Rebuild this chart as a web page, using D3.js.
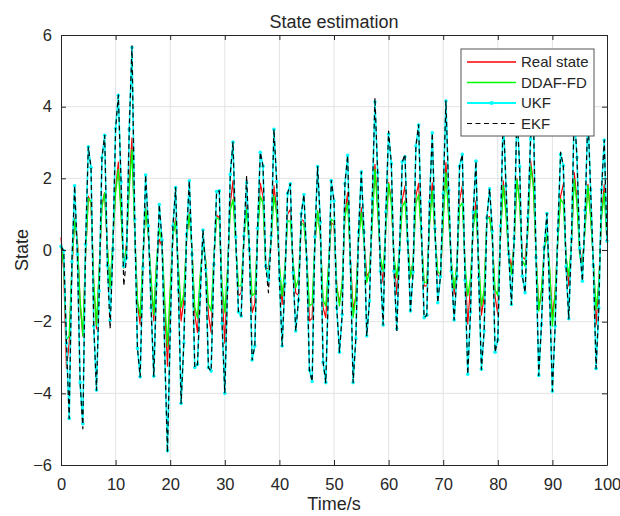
<!DOCTYPE html>
<html>
<head>
<meta charset="utf-8">
<script src="https://cdn.jsdelivr.net/npm/d3@7"></script>
<style>
  body { margin: 0; background: #fff; }
  text { font-family: "Liberation Sans", Arial, Helvetica, sans-serif; fill: #262626; }
</style>
</head>
<body>
<svg class="rend_state" width="620" height="516"></svg>
<script>
/////////////// data ////////////////
// sample time step (s)
const STEP = 0.5;
// real state, one row = 5 s
const realState = [
    0.35, -0.6, -3.3, -2.6, -0.6, 0.9, 0.3, -1.5, -2.4, -0.2,
    1.5, 1.3, -1.0, -2.2, -0.6, 1.3, 1.6, 0.0, -1.1, 0.2,
    1.7, 2.45, 1.1, -0.5, 0.2, 1.9, 3.13, 0.5, -1.5, -2.07,
    -0.3, 1.2, 0.4, -0.9, -1.98, -0.4, 0.3, 0.1, -1.6, -3.24,
    -1.3, 0.4, 0.9, -0.6, -1.98, -1.4, 0.3, 1.06, 0.0, -1.8,
    -2.3, -0.8, 0.3, -0.3, -1.8, -2.3, -0.2, 0.97, 0.9, -1.2,
    -2.6, -0.6, 1.3, 1.93, 0.2, -1.28, -1.2, 0.3, 1.37, 0.0,
    -1.75, -1.5, 0.4, 1.86, 1.5, -0.54, -0.5, 0.3, 1.8, 1.1,
    -0.5, -1.52, -0.6, 1.0, 1.13, -0.4, -1.2, -1.27, 0.86, 0.8,
    -0.2, -1.98, -1.9, 0.2, 1.09, 0.4, -1.6, -1.89, -0.5, 0.76,
    0.7, -1.0, -1.47, -1.0, 1.0, 1.6, -0.2, -1.66, -1.3, 0.3,
    1.18, 0.3, -0.73, -0.6, 0.8, 2.39, 1.2, -0.3, -0.91, 0.6,
    1.88, 1.4, -0.3, -1.24, 0.0, 1.4, 1.79, 0.2, -0.77, -0.3,
    1.5, 1.86, 0.4, -1.0, -1.0, 0.8, 1.88, 0.4, -0.7, -0.77,
    0.9, 2.44, 1.0, -0.4, -1.24, -0.4, 1.4, 1.79, -0.5, -2.07,
    -1.0, 0.7, 1.37, -0.4, -1.82, -1.3, 0.9, 0.93, 0.3, -1.3,
    -1.8, 0.4, 1.93, 1.1, -0.1, -0.49, 0.2, 1.99, 1.4, -0.2,
    -0.26, 0.6, 2.49, 1.9, -0.1, -1.66, -1.2, 0.0, 0.39, -0.6,
    -1.84, -1.2, 0.3, 1.5, 1.83, -0.2, -1.0, 0.2, 2.16, 1.4,
    0.02, -0.4, 0.7, 1.83, 1.0, -0.3, -2.08, -1.0, 1.0, 1.83,
    0.3
];
// DDAF-FD estimate
const ddafFd = [
    0.1, -0.4, -2.5, -2.4, -0.4, 0.85, 0.2, -1.4, -2.4, -0.1,
    1.45, 1.35, -0.9, -2.1, -0.5, 1.2, 1.6, 0.1, -1.05, 0.3,
    1.6, 2.25, 1.0, -0.5, 0.1, 1.7, 2.8, 0.5, -1.4, -1.84,
    -0.2, 1.13, 0.4, -0.8, -1.8, -0.3, 0.6, 0.2, -1.4, -2.68,
    -1.1, 0.4, 0.8, -0.5, -1.6, -1.2, 0.3, 1.0, 0.0, -1.6,
    -1.9, -0.7, 0.2, -0.3, -1.5, -1.7, -0.2, 0.9, 0.85, -1.0,
    -1.75, -0.5, 1.1, 1.41, 0.2, -1.0, -1.0, 0.3, 1.13, 0.0,
    -1.28, -1.2, 0.4, 1.5, 1.3, -0.5, -0.73, 0.3, 1.5, 1.0,
    -0.4, -1.28, -0.5, 0.8, 0.81, -0.3, -1.05, -0.8, 0.76, 0.7,
    -0.2, -1.56, -1.5, 0.2, 1.09, 0.4, -1.4, -1.56, -0.4, 0.86,
    0.8, -1.0, -1.56, -0.9, 0.9, 1.32, -0.3, -1.89, -1.3, 0.3,
    1.04, 0.2, -0.91, -0.6, 0.7, 2.25, 1.1, -0.2, -0.59, 0.6,
    1.85, 1.3, -0.2, -0.77, 0.0, 1.2, 1.37, 0.2, -0.77, -0.3,
    1.3, 1.55, 0.4, -0.9, -0.91, 0.7, 1.65, 0.4, -0.6, -0.68,
    0.8, 2.16, 0.9, -0.3, -1.08, -0.4, 1.2, 1.32, -0.4, -1.28,
    -0.8, 0.6, 1.13, -0.3, -1.56, -1.1, 0.86, 0.9, 0.3, -1.1,
    -1.28, 0.4, 1.79, 1.0, -0.2, -0.68, 0.2, 1.97, 1.3, -0.3,
    -0.45, 0.5, 2.35, 1.8, -0.1, -1.70, -1.1, 0.0, 0.47, -0.5,
    -2.12, -1.2, 0.3, 1.42, 1.3, -0.2, -0.73, 0.2, 1.97, 1.3,
    -0.17, -0.4, 0.6, 1.79, 0.9, -0.3, -1.66, -0.9, 0.9, 1.6,
    0.2
];
// UKF estimate
const ukf = [
    0.10, -0.02, -2.6, -4.70, -0.33, 1.79, -0.12, -3.70, -4.85, 0.16,
    2.88, 2.30, -2.12, -3.91, -1.14, 2.58, 3.20, -0.43, -1.96, 0.02,
    3.39, 4.32, 1.90, -0.45, -0.22, 3.37, 5.65, 0.86, -2.74, -3.54,
    -0.49, 2.09, 0.67, -1.61, -3.52, -0.96, 1.27, 0.28, -2.87, -5.60,
    -2.26, 0.67, 1.74, -1.12, -4.28, -2.59, 0.44, 1.93, -0.12, -3.28,
    -3.19, -1.27, 0.56, -0.54, -3.28, -3.38, -0.40, 1.63, 1.65, -2.05,
    -4.00, -1.05, 2.11, 3.01, 0.37, -1.73, -1.84, 0.39, 1.88, 0.02,
    -3.07, -2.68, 0.61, 2.73, 2.34, -0.45, -0.84, 0.39, 3.37, 1.91,
    -0.80, -2.68, -0.93, 1.58, 1.85, -0.63, -2.26, -1.40, 1.01, 1.55,
    -0.26, -3.35, -3.67, 0.37, 2.33, 0.78, -3.13, -3.70, -0.96, 1.94,
    1.37, -1.61, -2.85, -1.80, 1.85, 2.64, -0.38, -3.70, -2.47, 0.50,
    2.18, 0.50, -2.40, -1.42, 1.41, 4.13, 2.16, -0.59, -2.09, 1.06,
    3.23, 2.41, -0.59, -2.2, 0.00, 2.46, 2.60, 0.25, -1.70, -0.61,
    2.90, 3.49, 0.60, -1.89, -1.82, 1.34, 3.27, 0.60, -1.47, -0.74,
    1.57, 4.16, 1.67, -0.59, -1.95, -0.73, 2.34, 2.67, -0.84, -3.47,
    -1.73, 1.06, 2.48, -0.77, -3.33, -2.26, 0.90, 1.71, 0.53, -2.85,
    -2.51, 0.67, 3.8, 1.79, -0.12, -1.52, 0.32, 3.9, 2.33, -0.73,
    -1.19, 0.90, 3.1, 4.0, -0.21, -3.50, -2.08, 0.07, 1.02, -1.33,
    -3.94, -2.12, 0.56, 2.67, 2.36, -0.47, -1.92, 0.32, 3.9, 2.58,
    0.04, -0.87, 1.11, 3.8, 1.69, -0.43, -3.31, -1.61, 1.69, 3.07,
    0.25
];
// EKF estimate
const ekf = [
    0.10, -0.02, -2.6, -4.70, -0.33, 1.79, -0.12, -3.70, -4.99, 0.16,
    2.88, 2.30, -2.12, -3.91, -1.14, 2.58, 3.20, -0.43, -2.20, 0.02,
    3.39, 4.32, 1.90, -1.00, -0.22, 3.37, 5.70, 0.86, -2.74, -3.54,
    -0.49, 2.09, 0.67, -1.61, -3.52, -0.96, 1.27, 0.28, -2.87, -5.65,
    -2.26, 0.67, 1.74, -1.12, -4.28, -2.59, 0.44, 1.93, -0.12, -3.28,
    -3.19, -1.27, 0.56, -0.54, -3.28, -3.38, -0.40, 1.63, 1.65, -2.05,
    -4.00, -1.05, 2.11, 3.01, 0.37, -1.73, -1.84, 0.39, 2.07, 0.02,
    -3.07, -2.68, 0.61, 2.73, 2.34, -0.45, -1.19, 0.39, 3.37, 1.91,
    -0.80, -2.68, -0.93, 1.58, 1.85, -0.63, -2.26, -1.40, 1.01, 1.55,
    -0.26, -3.35, -3.67, 0.37, 2.33, 0.78, -3.13, -3.70, -0.96, 1.94,
    1.37, -1.61, -2.85, -1.80, 1.85, 2.64, -0.38, -3.70, -2.47, 0.50,
    2.18, 0.50, -2.40, -1.42, 1.41, 4.25, 2.16, -0.59, -2.09, 1.06,
    3.32, 2.41, -0.59, -2.29, 0.00, 2.46, 2.67, 0.25, -1.70, -0.61,
    2.90, 3.49, 0.60, -1.89, -1.82, 1.34, 3.27, 0.60, -1.47, -0.74,
    1.57, 4.16, 1.67, -0.59, -1.95, -0.73, 2.34, 2.67, -0.84, -3.47,
    -1.73, 1.06, 2.48, -0.77, -3.33, -2.26, 0.90, 1.71, 0.53, -2.85,
    -2.51, 0.67, 3.8, 1.79, -0.12, -1.52, 0.32, 3.9, 2.33, -0.73,
    -1.19, 0.90, 3.1, 4.0, -0.21, -3.50, -2.08, 0.07, 1.02, -1.33,
    -3.94, -2.12, 0.56, 2.73, 2.36, -0.47, -1.92, 0.32, 3.9, 2.58,
    0.04, -0.87, 1.11, 3.8, 1.69, -0.43, -3.31, -1.61, 1.69, 3.07,
    0.25
];
const X_TICKS = [0, 10, 20, 30, 40, 50, 60, 70, 80, 90, 100];
const Y_TICKS = [-6, -4, -2, 0, 2, 4, 6];
const SERIES_NAMES = ["Real state", "DDAF-FD", "UKF", "EKF"];

/////////////// layout ////////////////
const PLOT_L = 61;
const PLOT_R = 607;
const PLOT_T = 35;
const PLOT_B = 465;
const AX_COLOR = "#262626";
const GRID_COLOR = "#e3e3e3";
const TICK_LEN = 5;

const SVG = d3.select(".rend_state");
const SCL_X = d3.scaleLinear().domain([0, 100]).range([PLOT_L, PLOT_R]);
const SCL_Y = d3.scaleLinear().domain([-6, 6]).range([PLOT_B, PLOT_T]);

// line style of every series (legend width can differ from plot width)
const STYLES = [
    { data: realState, color: "#ff0000", width: 1.2, legW: 1.3, dash: null, dot: false },
    { data: ddafFd, color: "#00ff00", width: 1.3, legW: 1.5, dash: null, dot: false },
    { data: ukf, color: "#00ffff", width: 1.6, legW: 2.2, dash: null, dot: true },
    { data: ekf, color: "#000000", width: 1.2, legW: 1, dash: "5,3.5", dot: false }
];

/////////////// grid ////////////////
const GRID_GRP = SVG.append("g").attr("id", "gridGroup");
GRID_GRP.selectAll(".vgrid")
    .data(X_TICKS.slice(1, -1))
    .enter()
    .append("line")
    .attr("x1", d => SCL_X(d))
    .attr("x2", d => SCL_X(d))
    .attr("y1", PLOT_T)
    .attr("y2", PLOT_B)
    .attr("stroke", GRID_COLOR);
GRID_GRP.selectAll(".hgrid")
    .data(Y_TICKS.slice(1, -1))
    .enter()
    .append("line")
    .attr("x1", PLOT_L)
    .attr("x2", PLOT_R)
    .attr("y1", d => SCL_Y(d))
    .attr("y2", d => SCL_Y(d))
    .attr("stroke", GRID_COLOR);

/////////////// series ////////////////
const LINE_GEN = d3.line()
    .x((d, i) => SCL_X(i * STEP))
    .y(d => SCL_Y(d));
const SERIES_GRP = SVG.append("g").attr("id", "seriesGroup");
STYLES.forEach(s => {
    SERIES_GRP.append("path")
        .datum(s.data)
        .attr("d", LINE_GEN)
        .attr("fill", "none")
        .attr("stroke", s.color)
        .attr("stroke-width", s.width)
        .attr("stroke-dasharray", s.dash)
        .attr("stroke-linejoin", "round");
    if (s.dot) {
        SERIES_GRP.append("g")
            .selectAll("circle")
            .data(s.data)
            .enter()
            .append("circle")
            .attr("cx", (d, i) => SCL_X(i * STEP))
            .attr("cy", d => SCL_Y(d))
            .attr("r", 1.8)
            .attr("fill", s.color);
    }
});

/////////////// axes ////////////////
function styleAxis(g) {
    g.select(".domain").attr("stroke", AX_COLOR).attr("fill", "none");
    g.selectAll(".tick line").attr("stroke", AX_COLOR);
    g.selectAll(".tick text")
        .attr("fill", AX_COLOR)
        .style("font-size", "16.5px");
}
SVG.append("g")
    .attr("transform", `translate(0, ${PLOT_B})`)
    .call(d3.axisBottom(SCL_X).tickValues(X_TICKS).tickSize(-TICK_LEN).tickSizeOuter(0).tickPadding(13))
    .call(styleAxis);
SVG.append("g")
    .attr("transform", `translate(0, ${PLOT_T})`)
    .call(d3.axisTop(SCL_X).tickValues(X_TICKS).tickSize(-TICK_LEN).tickSizeOuter(0).tickFormat(""))
    .call(styleAxis);
SVG.append("g")
    .attr("transform", `translate(${PLOT_L}, 0)`)
    .call(d3.axisLeft(SCL_Y).tickValues(Y_TICKS).tickSize(-TICK_LEN).tickSizeOuter(0).tickPadding(9))
    .call(styleAxis);
SVG.append("g")
    .attr("transform", `translate(${PLOT_R}, 0)`)
    .call(d3.axisRight(SCL_Y).tickValues(Y_TICKS).tickSize(-TICK_LEN).tickSizeOuter(0).tickFormat(""))
    .call(styleAxis);

/////////////// labels ////////////////
SVG.append("text")
    .attr("x", (PLOT_L + PLOT_R) / 2)
    .attr("y", 28)
    .attr("text-anchor", "middle")
    .style("font-size", "18px")
    .attr("fill", "#000")
    .text("State estimation");
SVG.append("text")
    .attr("x", (PLOT_L + PLOT_R) / 2)
    .attr("y", 510)
    .attr("text-anchor", "middle")
    .style("font-size", "18px")
    .text("Time/s");
SVG.append("text")
    .attr("transform", `translate(28, ${(PLOT_T + PLOT_B) / 2}) rotate(-90)`)
    .attr("text-anchor", "middle")
    .style("font-size", "18px")
    .text("State");

/////////////// legend ////////////////
const LEG_X = 461;
const LEG_Y = 49;
const LEG_W = 133;
const LEG_H = 87;
const LEG_ROW_H = 20.5;
const LEG_GRP = SVG.append("g")
    .attr("id", "legendGroup")
    .attr("transform", `translate(${LEG_X}, ${LEG_Y})`);
LEG_GRP.append("rect")
    .attr("width", LEG_W)
    .attr("height", LEG_H)
    .attr("fill", "#fff")
    .attr("stroke", "#555")
    .attr("stroke-width", 1);
const LEG_ROWS = LEG_GRP.selectAll(".legRow")
    .data(STYLES)
    .enter()
    .append("g")
    .attr("transform", (d, i) => `translate(0, ${13 + i * LEG_ROW_H})`);
LEG_ROWS.append("line")
    .attr("x1", 6)
    .attr("x2", 55)
    .attr("stroke", d => d.color)
    .attr("stroke-width", d => d.legW)
    .attr("stroke-dasharray", d => d.dash);
LEG_ROWS.filter(d => d.dot)
    .append("circle")
    .attr("cx", 30.5)
    .attr("r", 2)
    .attr("fill", d => d.color);
LEG_ROWS.append("text")
    .attr("x", 60)
    .attr("dy", "0.35em")
    .style("font-size", "15px")
    .attr("fill", "#000")
    .text((d, i) => SERIES_NAMES[i]);
</script>
</body>
</html>
